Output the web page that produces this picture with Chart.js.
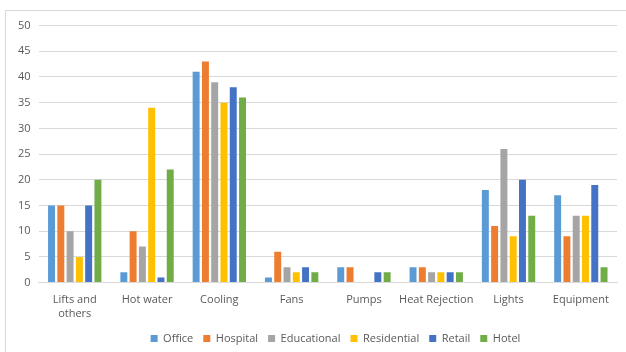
<!DOCTYPE html>
<html>
<head>
<meta charset="utf-8">
<script src="https://cdn.jsdelivr.net/npm/chart.js@4"></script>
<style>
  body { margin: 0; background: #fff; }
  #frame { position: absolute; left: 5px; top: 10px; width: 630px; height: 350px; border: 1px solid #d9d9d9; box-sizing: border-box; }
  #wrap { position: absolute; left: 0; top: 0; width: 621px; height: 347px; }
</style>
</head>
<body>
<div id="frame"><div id="wrap"><canvas id="myChart"></canvas></div></div>
<script>
  const categories = [['Lifts and', 'others'], 'Hot water', 'Cooling', 'Fans', 'Pumps', 'Heat Rejection', 'Lights', 'Equipment'];
  const office      = [15, 2, 41, 1, 3, 3, 18, 17];
  const hospital    = [15, 10, 43, 6, 3, 3, 11, 9];
  const educational = [10, 7, 39, 3, 0, 2, 26, 13];
  const residential = [5, 34, 35, 2, 0, 2, 9, 13];
  const retail      = [15, 1, 38, 3, 2, 2, 20, 19];
  const hotel       = [20, 22, 36, 2, 2, 2, 13, 3];

  const ctx = document.getElementById('myChart');
  const textColor = '#595959';
  const font = { family: "'Open Sans', 'Liberation Sans', sans-serif", size: 11 };

  function series(label, data, color) {
    return { label: label, data: data, backgroundColor: color, borderWidth: 0,
             categoryPercentage: 0.77, barPercentage: 0.75 };
  }

  // nudge the legend to the right like the original
  const legendShift = {
    id: 'legendShift',
    afterLayout(chart) {
      chart.legend.left += 22;
      chart.legend.right += 22;
    }
  };

  new Chart(ctx, {
    type: 'bar',
    data: {
      labels: categories,
      datasets: [
        series('Office', office, '#5B9BD5'),
        series('Hospital', hospital, '#ED7D31'),
        series('Educational', educational, '#A5A5A5'),
        series('Residential', residential, '#FFC000'),
        series('Retail', retail, '#4472C4'),
        series('Hotel', hotel, '#70AD47')
      ]
    },
    options: {
      responsive: true,
      maintainAspectRatio: false,
      animation: false,
      layout: { padding: { left: 4, right: 10, top: 6, bottom: 4 } },
      plugins: {
        tooltip: { enabled: false },
        legend: {
          position: 'bottom',
          labels: { boxWidth: 7, boxHeight: 7, color: textColor, font: font, padding: 10 }
        }
      },
      scales: {
        x: {
          grid: { display: false },
          border: { color: '#d9d9d9' },
          ticks: { color: textColor, font: font, maxRotation: 0, autoSkip: false }
        },
        y: {
          min: 0, max: 50,
          ticks: { stepSize: 5, color: textColor, font: font, padding: 8 },
          grid: { color: '#d9d9d9', drawTicks: false },
          border: { display: false }
        }
      }
    },
    plugins: [legendShift]
  });
</script>
</body>
</html>
